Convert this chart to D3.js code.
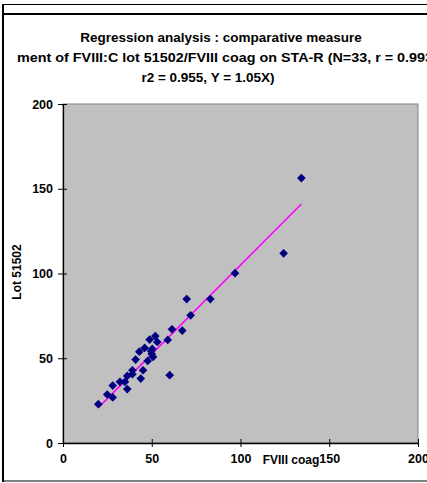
<!DOCTYPE html>
<html>
<head>
<meta charset="utf-8">
<script src="https://cdn.jsdelivr.net/npm/d3@7"></script>
<style>
  body { margin: 0; background: #fff; }
</style>
</head>
<body>
<div id="chart"></div>
<script>
// FVIII coag (x) vs Lot 51502 (y)
var fviiiCoag = [19.9, 24.9, 28.0, 28.0, 32.1, 34.9, 36.2, 36.2, 39.1, 39.1, 40.9, 43.0, 43.8, 45.1, 46.0,
    47.7, 48.8, 49.6, 50.3, 50.7, 52.0, 53.1, 59.0, 60.1, 61.4, 67.2, 69.7, 71.9, 83.0, 96.9, 124.3, 134.3, 50.0];
var lot51502 = [22.9, 28.6, 26.9, 33.9, 36.1, 36.1, 31.8, 39.6, 42.9, 40.6, 49.2, 53.9, 38.0, 42.9, 56.1,
    48.4, 61.0, 54.3, 55.5, 50.8, 63.1, 59.6, 60.8, 40.0, 67.1, 66.3, 84.9, 75.3, 84.9, 100.2, 111.9, 156.3, 52.5];
var fitRange = [19.9, 134.3];
var slope = 1.05;
var tickValues = [0, 50, 100, 150, 200];
var titleLines = [
    "Regression analysis : comparative measure",
    "ment of FVIII:C lot 51502/FVIII coag on STA-R (N=33, r = 0.993",
    "r2 = 0.955, Y = 1.05X)"
];

var width = 427, height = 483;
var font = "'Liberation Sans', Arial, sans-serif";

var svg = d3.select("#chart")
    .append("svg")
    .attr("width", width)
    .attr("height", height);

// outer chart frame (right side cut off)
svg.append("rect")
    .attr("x", 3.5).attr("y", 4.5)
    .attr("width", 440).attr("height", 476.5)
    .attr("fill", "none").attr("stroke", "#000").attr("stroke-width", 1);
svg.append("line")
    .attr("x1", 3).attr("x2", 3)
    .attr("y1", 4).attr("y2", 482)
    .attr("stroke", "#000").attr("stroke-width", 2);
svg.append("line")
    .attr("x1", 3).attr("x2", width)
    .attr("y1", 14).attr("y2", 14)
    .attr("stroke", "#000").attr("stroke-width", 2);

var x = d3.scaleLinear().domain([0, 200]).range([63, 418]);
var y = d3.scaleLinear().domain([0, 200]).range([443, 104]);

// plot area
svg.append("rect")
    .attr("x", x(0)).attr("y", y(200))
    .attr("width", x(200) - x(0)).attr("height", y(0) - y(200))
    .attr("fill", "#c0c0c0")
    .attr("stroke", "#808080").attr("stroke-width", 1);

// title
var titleX = [221, 17, 208];
var title = svg.selectAll(".title")
    .data(titleLines)
    .enter()
    .append("text")
    .attr("class", "title")
    .attr("x", function(d, i) { return titleX[i]; })
    .attr("y", function(d, i) { return 42 + i * 20; })
    .attr("text-anchor", function(d, i) { return i == 1 ? "start" : "middle"; })
    .style("font-family", font)
    .style("font-weight", "bold")
    .style("font-size", "13.5px")
    .text(function(d) { return d; });
// second line runs past the right edge in the original
title.filter(function(d, i) { return i == 1; })
    .attr("textLength", 416)
    .attr("lengthAdjust", "spacingAndGlyphs");

// axes
var xAxis = d3.axisBottom(x).tickValues(tickValues).tickSize(0).tickPadding(11);
var yAxis = d3.axisLeft(y).tickValues(tickValues).tickSize(0).tickPadding(10);

var gx = svg.append("g")
    .attr("transform", "translate(0," + y(0) + ")")
    .call(xAxis);
var gy = svg.append("g")
    .attr("transform", "translate(" + x(0) + ",0)")
    .call(yAxis);

[gx, gy].forEach(function(g) {
    g.select(".domain").attr("stroke", "#000").attr("stroke-width", 1.3);
    g.selectAll("text")
        .style("font-family", font)
        .style("font-weight", "bold")
        .style("font-size", "12.5px")
        .attr("fill", "#000");
});

// crossing tick marks
gx.selectAll(".tick").append("line")
    .attr("y1", -4).attr("y2", 4)
    .attr("stroke", "#000");
gy.selectAll(".tick").append("line")
    .attr("x1", -5).attr("x2", 4)
    .attr("stroke", "#000");

// axis titles
svg.append("text")
    .attr("x", 291).attr("y", 464)
    .attr("text-anchor", "middle")
    .style("font-family", font)
    .style("font-weight", "bold")
    .style("font-size", "12px")
    .text("FVIII coag");
svg.append("text")
    .attr("transform", "translate(21,272) rotate(-90)")
    .attr("text-anchor", "middle")
    .style("font-family", font)
    .style("font-weight", "bold")
    .style("font-size", "12px")
    .text("Lot 51502");

// regression line
svg.append("line")
    .attr("x1", x(fitRange[0])).attr("y1", y(fitRange[0] * slope))
    .attr("x2", x(fitRange[1])).attr("y2", y(fitRange[1] * slope))
    .attr("stroke", "#ff00ff").attr("stroke-width", 1.6);

// points
var points = fviiiCoag.map(function(v, i) { return [v, lot51502[i]]; });
svg.selectAll(".pt")
    .data(points)
    .enter()
    .append("path")
    .attr("class", "pt")
    .attr("d", d3.symbol().type(d3.symbolDiamond2).size(48))
    .attr("transform", function(d) {
        return "translate(" + x(d[0]) + "," + y(d[1]) + ")";
    })
    .attr("fill", "#000080");
</script>
</body>
</html>
